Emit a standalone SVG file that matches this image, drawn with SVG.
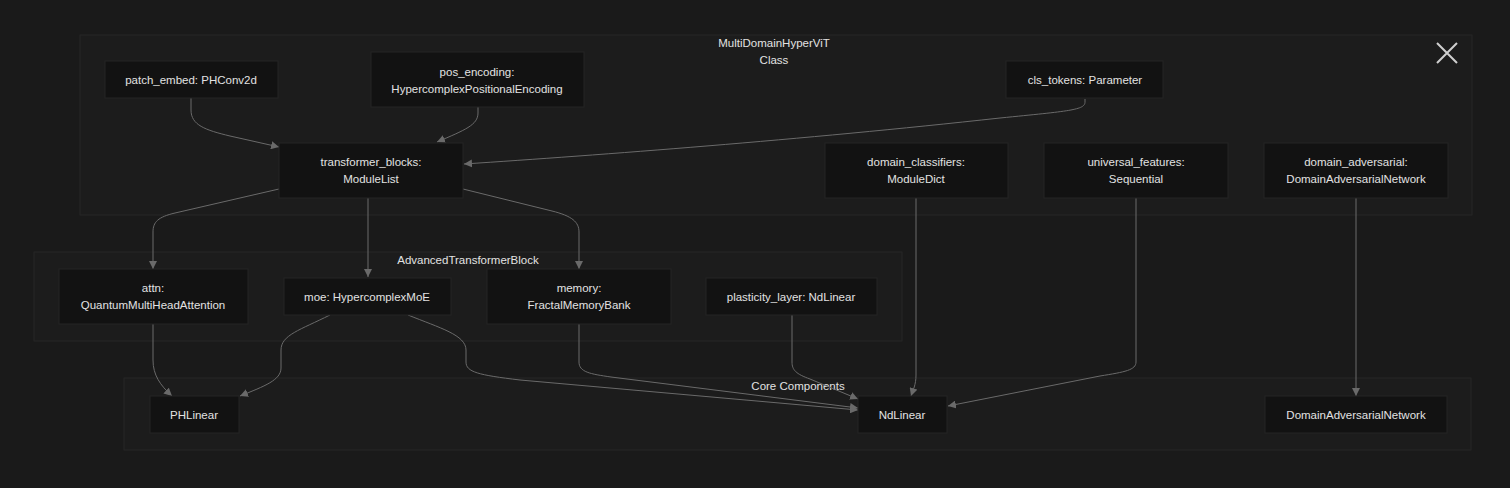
<svg xmlns="http://www.w3.org/2000/svg" width="1510" height="488" viewBox="0 0 1510 488">
<style>
.bg{fill:#1a1a1a}
.cl{fill:#1c1c1c;stroke:#262626;stroke-width:1}
.nd{fill:#121212;stroke:#242424;stroke-width:1}
text{font-family:"Liberation Sans",Arial,sans-serif;font-size:11.5px;fill:#e2e2e2;text-anchor:middle}
.e{fill:none;stroke:#6a6a6a;stroke-width:1}
</style>
<defs>
<marker id="ah" viewBox="0 0 10 10" refX="10" refY="5" markerWidth="8" markerHeight="8" markerUnits="userSpaceOnUse" orient="auto">
<path d="M0,0 L10,5 L0,10 z" fill="#6a6a6a"/>
</marker>
</defs>
<rect class="bg" x="0" y="0" width="1510" height="488"/>
<g id="clusters">
<g id="cluster-main">
<rect class="cl" x="80" y="35" width="1392" height="180"/>
<text x="774" y="47">MultiDomainHyperViT</text>
<text x="774" y="64">Class</text>
</g>
<g id="cluster-block">
<rect class="cl" x="34" y="252" width="868" height="89"/>
<text x="468" y="264">AdvancedTransformerBlock</text>
</g>
<g id="cluster-core">
<rect class="cl" x="124" y="378" width="1347" height="72"/>
<text x="798" y="390">Core Components</text>
</g>
</g>
<g id="close">
<path d="M1437,43 L1457,63 M1457,43 L1437,63" stroke="#cfcfcf" stroke-width="2" fill="none"/>
</g>
<g id="connectors">
<path class="e" marker-end="url(#ah)" d="M191,98 V110 C191,125 205,130 230,136 L279,147"/>
<path class="e" marker-end="url(#ah)" d="M478,107 V113 C478,125 465,130 437,142"/>
<path class="e" marker-end="url(#ah)" d="M1085,99 V102 C1085,110 1070,111 1000,118 C800,140 600,155 464,164"/>
<path class="e" marker-end="url(#ah)" d="M279,189 L175,213 C158,217 153,222 153,232 V269"/>
<path class="e" marker-end="url(#ah)" d="M368,198 V277"/>
<path class="e" marker-end="url(#ah)" d="M463,189 L552,211 C572,216 579,222 579,232 V269"/>
<path class="e" marker-end="url(#ah)" d="M153,324 V360 C153,375 160,385 172,396"/>
<path class="e" marker-end="url(#ah)" d="M330,315 C300,330 281,335 281,350 V368 C281,380 265,386 240,396"/>
<path class="e" marker-end="url(#ah)" d="M408,315 C440,328 466,335 466,350 V362 C466,372 478,375 520,380 L858,410"/>
<path class="e" marker-end="url(#ah)" d="M579,324 V362 C579,372 590,374 611,377 L858,408"/>
<path class="e" marker-end="url(#ah)" d="M792,315 V362 C792,370 796,374 810,379 L858,399"/>
<path class="e" marker-end="url(#ah)" d="M916,198 V375 C916,385 913,390 911,396"/>
<path class="e" marker-end="url(#ah)" d="M1136,198 V362 C1136,370 1125,372 1100,376 L948,406"/>
<path class="e" marker-end="url(#ah)" d="M1356,198 V396"/>
</g>
<g id="patch_embed"><rect class="nd" x="105" y="61" width="173" height="37"/><text x="191" y="84">patch_embed: PHConv2d</text></g>
<g id="pos_encoding"><rect class="nd" x="371" y="52" width="213" height="55"/><text x="477" y="76">pos_encoding:</text><text x="477" y="93">HypercomplexPositionalEncoding</text></g>
<g id="cls_tokens"><rect class="nd" x="1006" y="61" width="157" height="37"/><text x="1085" y="84">cls_tokens: Parameter</text></g>
<g id="transformer_blocks"><rect class="nd" x="279" y="143" width="184" height="55"/><text x="371" y="166">transformer_blocks:</text><text x="371" y="183">ModuleList</text></g>
<g id="domain_classifiers"><rect class="nd" x="825" y="143" width="183" height="55"/><text x="916" y="166">domain_classifiers:</text><text x="916" y="183">ModuleDict</text></g>
<g id="universal_features"><rect class="nd" x="1044" y="143" width="184" height="55"/><text x="1136" y="166">universal_features:</text><text x="1136" y="183">Sequential</text></g>
<g id="domain_adversarial"><rect class="nd" x="1264" y="143" width="184" height="55"/><text x="1356" y="166">domain_adversarial:</text><text x="1356" y="183">DomainAdversarialNetwork</text></g>
<g id="attn"><rect class="nd" x="59" y="269" width="189" height="55"/><text x="153" y="292">attn:</text><text x="153" y="309">QuantumMultiHeadAttention</text></g>
<g id="moe"><rect class="nd" x="284" y="278" width="167" height="37"/><text x="367" y="301">moe: HypercomplexMoE</text></g>
<g id="memory"><rect class="nd" x="487" y="269" width="184" height="55"/><text x="579" y="292">memory:</text><text x="579" y="309">FractalMemoryBank</text></g>
<g id="plasticity_layer"><rect class="nd" x="706" y="278" width="171" height="37"/><text x="791" y="301">plasticity_layer: NdLinear</text></g>
<g id="PHLinear"><rect class="nd" x="150" y="396" width="89" height="37"/><text x="194" y="419">PHLinear</text></g>
<g id="NdLinear"><rect class="nd" x="858" y="396" width="89" height="37"/><text x="902" y="419">NdLinear</text></g>
<g id="DomainAdversarialNetwork"><rect class="nd" x="1265" y="396" width="182" height="37"/><text x="1356" y="419">DomainAdversarialNetwork</text></g>
</svg>
